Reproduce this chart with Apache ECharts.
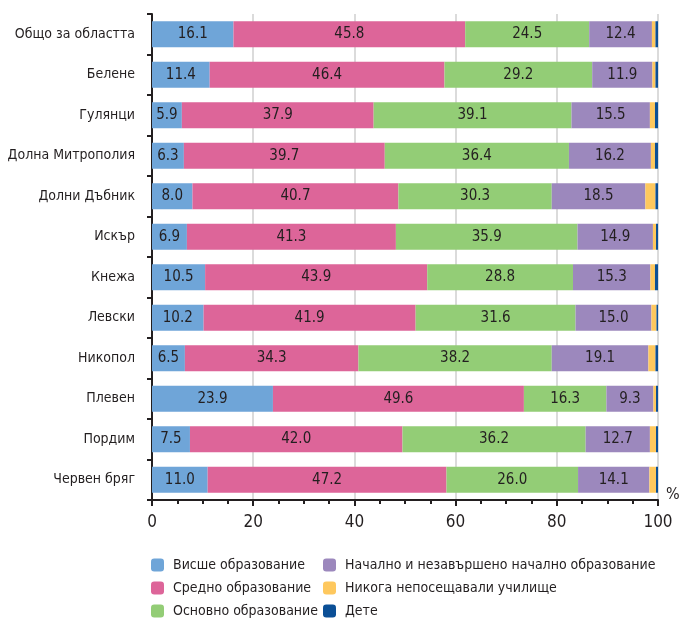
<!DOCTYPE html>
<html><head><meta charset="utf-8">
<script src="https://cdn.jsdelivr.net/npm/echarts@6/dist/echarts.min.js"></script>
<style>html,body{margin:0;padding:0;background:#fff}#c{width:682px;height:619px}</style>
</head><body><div id="c"></div>
<script>
const categories = ['Общо за областта','Белене','Гулянци','Долна Митрополия','Долни Дъбник','Искър','Кнежа','Левски','Никопол','Плевен','Пордим','Червен бряг'];
const seriesNames = ['Висше образование','Средно образование','Основно образование','Начално и незавършено начално образование','Никога непосещавали училище','Дете'];
const higher    = [16.1, 11.4, 5.9, 6.3, 8.0, 6.9, 10.5, 10.2, 6.5, 23.9, 7.5, 11.0];
const secondary = [45.8, 46.4, 37.9, 39.7, 40.7, 41.3, 43.9, 41.9, 34.3, 49.6, 42.0, 47.2];
const basic     = [24.5, 29.2, 39.1, 36.4, 30.3, 35.9, 28.8, 31.6, 38.2, 16.3, 36.2, 26.0];
const primary   = [12.4, 11.9, 15.5, 16.2, 18.5, 14.9, 15.3, 15.0, 19.1, 9.3, 12.7, 14.1];
const never     = [0.7, 0.6, 1.0, 0.8, 2.0, 0.6, 0.9, 1.0, 1.4, 0.5, 1.2, 1.3];
const child     = [0.5, 0.5, 0.6, 0.6, 0.5, 0.4, 0.6, 0.3, 0.5, 0.4, 0.4, 0.4];
const xTicks = [0, 20, 40, 60, 80, 100];

const colors = ['#6fa5d8','#dd6599','#93cd76','#9c88bd','#fec85e','#0b4f96'];
const FONT = '"Liberation Sans Narrow","DejaVu Sans Condensed","Roboto Condensed",sans-serif';
const TXT = '#231f20';
const values = [higher, secondary, basic, primary, never, child];

const series = values.map((arr, i) => ({
  name: seriesNames[i],
  type: 'bar',
  stack: 'total',
  barWidth: 26,
  data: arr,
  itemStyle: { color: colors[i] },
  label: {
    show: i < 4,
    position: 'inside',
    color: TXT,
    fontFamily: FONT,
    fontSize: 15,
    formatter: p => p.value.toFixed(1)
  },
  emphasis: { disabled: true },
  z: 3
}));

const legendText = { color: TXT, fontFamily: FONT, fontSize: 14, padding: [0, 0, 0, 4] };
const chart = echarts.init(document.getElementById('c'), null, { renderer: 'canvas' });
chart.setOption({
  animation: false,
  color: colors,
  textStyle: { fontFamily: FONT, color: TXT },
  grid: { left: 152, right: 24, top: 14, bottom: 119, containLabel: false, outerBoundsMode: 'none' },
  xAxis: {
    type: 'value', min: 0, max: 100, interval: 20,
    axisLine: { show: true, lineStyle: { color: '#231f20', width: 2 } },
    axisTick: { show: true, length: 6, lineStyle: { color: '#231f20', width: 2 } },
    minorTick: { show: true, splitNumber: 4, length: 4, lineStyle: { color: '#231f20', width: 2 } },
    axisLabel: { color: TXT, fontFamily: FONT, fontSize: 17, margin: 14, formatter: v => xTicks.includes(v) ? String(v) : '' },
    splitLine: { show: true, lineStyle: { color: '#cfcfcf', width: 1.5 } }
  },
  yAxis: {
    type: 'category', data: categories, inverse: true,
    axisLine: { show: true, lineStyle: { color: '#231f20', width: 2 } },
    axisTick: { show: true, length: 5, lineStyle: { color: '#231f20', width: 2 } },
    axisLabel: { color: TXT, fontFamily: FONT, fontSize: 14, margin: 17 }
  },
  legend: [
    { orient: 'vertical', left: 151, top: 558, height: 90, padding: 0, itemWidth: 13, itemHeight: 13, itemGap: 9,
      data: seriesNames.slice(0,3), textStyle: legendText, selectedMode: false },
    { orient: 'vertical', left: 323, top: 558, height: 90, padding: 0, itemWidth: 13, itemHeight: 13, itemGap: 9,
      data: seriesNames.slice(3), textStyle: legendText, selectedMode: false }
  ],
  graphic: [{ type: 'text', left: 666, top: 487, style: { text: '%', fill: TXT, font: '16px ' + FONT } }],
  series: series
});
</script></body></html>
